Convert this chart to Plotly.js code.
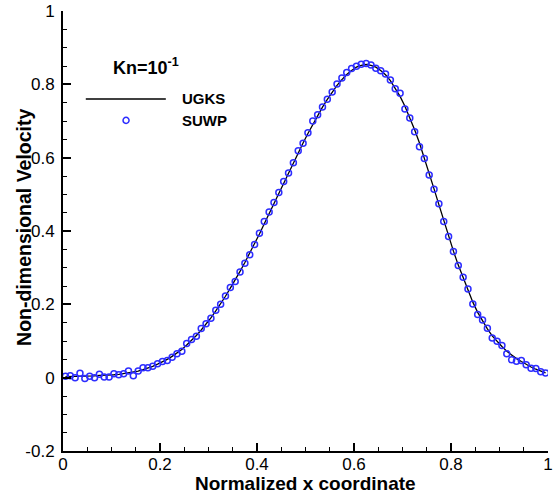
<!DOCTYPE html>
<html><head><meta charset="utf-8">
<script src="https://cdn.plot.ly/plotly-3.0.1.min.js"></script>
<style>html,body{margin:0;padding:0;background:#fff}#chart{width:555px;height:497px}</style>
</head><body><div id="chart"></div>
<script>
// Cell-centre x coordinates (shared by both series)
const xCentres = [0.005,0.015,0.025,0.035,0.045,0.055,0.065,0.075,0.085,0.095,
0.105,0.115,0.125,0.135,0.145,0.155,0.165,0.175,0.185,0.195,
0.205,0.215,0.225,0.235,0.245,0.255,0.265,0.275,0.285,0.295,
0.305,0.315,0.325,0.335,0.345,0.355,0.365,0.375,0.385,0.395,
0.405,0.415,0.425,0.435,0.445,0.455,0.465,0.475,0.485,0.495,
0.505,0.515,0.525,0.535,0.545,0.555,0.565,0.575,0.585,0.595,
0.605,0.615,0.625,0.635,0.645,0.655,0.665,0.675,0.685,0.695,
0.705,0.715,0.725,0.735,0.745,0.755,0.765,0.775,0.785,0.795,
0.805,0.815,0.825,0.835,0.845,0.855,0.865,0.875,0.885,0.895,
0.905,0.915,0.925,0.935,0.945,0.955,0.965,0.975,0.985,0.995];

const ugksVel = [0.003,0.003,0.004,0.004,0.004,0.005,0.005,0.006,0.006,0.007,
0.008,0.009,0.011,0.013,0.015,0.018,0.022,0.026,0.031,0.037,
0.043,0.050,0.058,0.067,0.077,0.089,0.101,0.115,0.130,0.146,
0.163,0.182,0.201,0.222,0.244,0.266,0.290,0.314,0.339,0.365,
0.392,0.420,0.448,0.476,0.504,0.532,0.560,0.588,0.614,0.640,
0.666,0.691,0.715,0.738,0.759,0.779,0.797,0.813,0.827,0.838,
0.847,0.852,0.854,0.852,0.847,0.838,0.826,0.810,0.790,0.767,
0.740,0.710,0.676,0.640,0.600,0.558,0.515,0.472,0.429,0.386,
0.345,0.307,0.272,0.238,0.206,0.178,0.154,0.133,0.114,0.098,
0.085,0.072,0.061,0.052,0.044,0.036,0.029,0.023,0.018,0.013];

const suwpVel = [0.004,0.005,0.000,0.012,-0.002,0.004,0.000,0.009,0.002,0.002,
0.011,0.008,0.011,0.018,0.005,0.018,0.027,0.027,0.031,0.038,
0.044,0.047,0.056,0.065,0.072,0.093,0.104,0.113,0.134,0.147,
0.162,0.184,0.200,0.223,0.246,0.262,0.288,0.312,0.335,0.363,
0.394,0.426,0.452,0.478,0.505,0.535,0.558,0.586,0.619,0.639,
0.668,0.700,0.717,0.738,0.759,0.779,0.801,0.817,0.832,0.843,
0.849,0.855,0.857,0.853,0.844,0.837,0.828,0.812,0.788,0.776,
0.733,0.708,0.671,0.630,0.598,0.553,0.514,0.474,0.426,0.385,
0.344,0.306,0.274,0.242,0.201,0.172,0.157,0.135,0.108,0.099,
0.088,0.065,0.049,0.045,0.047,0.035,0.026,0.025,0.016,0.013];

const xTickVals = [0,0.2,0.4,0.6,0.8,1];
const xTickText = ["0","0.2","0.4","0.6","0.8","1"];
const yTickVals = [-0.2,0,0.2,0.4,0.6,0.8,1];
const yTickText = ["-0.2","0","0.2","0.4","0.6","0.8","1"];

const seriesNames = ["UGKS","SUWP"];
const legendTitle = "Kn=10<sup>-1</sup>";
const xTitle = "Normalized x coordinate";
const yTitle = "Non-dimensional Velocity";

const blue = "rgb(45,45,255)";
const font = "Liberation Sans, Arial, sans-serif";

const traces = [
  {x: xCentres, y: ugksVel, mode: "lines", name: seriesNames[0],
   line: {color: "black", width: 1.3}, showlegend: false},
  {x: xCentres, y: suwpVel, mode: "markers", name: seriesNames[1],
   marker: {symbol: "circle-open", size: 6, color: blue, line: {width: 1.5, color: blue}},
   showlegend: false}
];

const axisCommon = {
  showline: true, linecolor: "black", linewidth: 2,
  ticks: "inside", ticklen: 8, tickwidth: 2, tickcolor: "black",
  showgrid: false, zeroline: false, mirror: false,
  tickfont: {family: font, size: 17, color: "black"},
  minor: {dtick: 0.05, ticks: "inside", ticklen: 4, tickwidth: 1, tickcolor: "black", showgrid: false}
};

const layout = {
  width: 555, height: 497,
  margin: {l: 63, r: 7, t: 11, b: 46},
  paper_bgcolor: "white", plot_bgcolor: "white",
  font: {family: font, color: "black"},
  xaxis: Object.assign({}, axisCommon, {
    range: [0, 1], tickmode: "array", tickvals: xTickVals, ticktext: xTickText,
    ticklabelstandoff: -3
  }),
  yaxis: Object.assign({}, axisCommon, {
    range: [-0.2, 1], tickmode: "array", tickvals: yTickVals, ticktext: yTickText,
    ticklabelstandoff: 3
  }),
  shapes: [
    {type: "line", xref: "paper", yref: "paper", x0: 0.047, x1: 0.212, y0: 0.8, y1: 0.8,
     line: {color: "black", width: 1.3}},
    {type: "circle", xref: "paper", yref: "paper", x0: 0.1238, x1: 0.1362, y0: 0.7445, y1: 0.7585,
     line: {color: blue, width: 1.5}}
  ],
  annotations: [
    {xref: "paper", yref: "paper", x: 0.5, y: -0.074, text: "<b>" + xTitle + "</b>",
     showarrow: false, xanchor: "center", yanchor: "middle", font: {family: font, size: 19, color: "black"}},
    {xref: "paper", yref: "paper", x: -0.0804, y: 0.507, text: "<b>" + yTitle + "</b>", textangle: -90,
     showarrow: false, xanchor: "center", yanchor: "middle", font: {family: font, size: 19.5, color: "black"}},
    {xref: "paper", yref: "paper", x: 0.171, y: 0.873, text: "<b>" + legendTitle + "</b>",
     showarrow: false, xanchor: "center", yanchor: "middle", font: {family: font, size: 18, color: "black"}},
    {xref: "paper", yref: "paper", x: 0.241, y: 0.8, text: "<b>" + seriesNames[0] + "</b>",
     showarrow: false, xanchor: "left", yanchor: "middle", font: {family: font, size: 15, color: "black"}},
    {xref: "paper", yref: "paper", x: 0.241, y: 0.752, text: "<b>" + seriesNames[1] + "</b>",
     showarrow: false, xanchor: "left", yanchor: "middle", font: {family: font, size: 15, color: "black"}}
  ]
};

Plotly.newPlot("chart", traces, layout, {displayModeBar: false, staticPlot: true});
</script>
</body></html>
